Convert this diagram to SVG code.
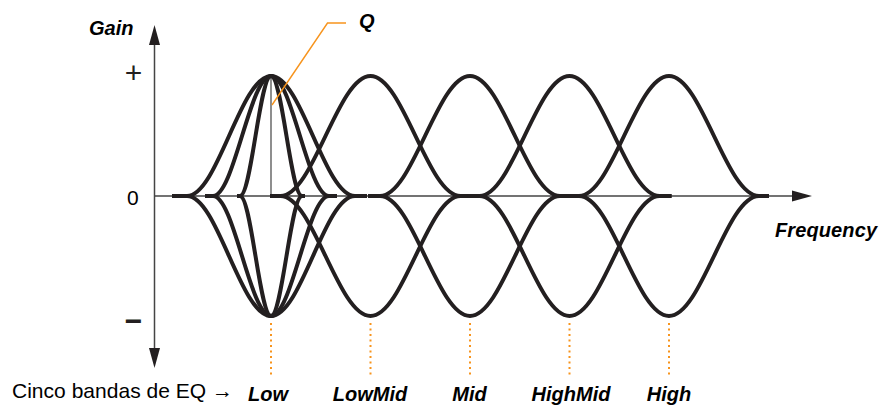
<svg xmlns="http://www.w3.org/2000/svg" width="881" height="405" viewBox="0 0 881 405">
<defs>
<style>
.curve{fill:none;stroke:#231f20;stroke-width:4;stroke-linejoin:round}
.axis{fill:none;stroke:#444;stroke-width:1.5}
.lead{fill:none;stroke:#f7941d;stroke-width:1.4}
.dot{fill:none;stroke:#f7941d;stroke-width:2;stroke-dasharray:2 3.5}
.lbl{font-family:"Liberation Sans",Arial,sans-serif;font-weight:bold;font-style:italic;font-size:20px;fill:#000}
.reg{font-family:"Liberation Sans",Arial,sans-serif;font-size:21px;fill:#000}
.sign{font-family:"Liberation Sans",Arial,sans-serif;font-size:30px;fill:#231f20}
</style>
</defs>
<rect width="881" height="405" fill="#fff"/>
<g id="axes">
<line class="axis" x1="154.5" y1="42" x2="154.5" y2="352"/>
<polygon points="154.5,25 149,45 160,45" fill="#231f20"/>
<polygon points="154.5,368 149,348 160,348" fill="#231f20"/>
<line class="axis" x1="154.5" y1="196" x2="795" y2="196"/>
<polygon points="812,196 792,190.5 792,201.5" fill="#231f20"/>
<line x1="271" y1="76" x2="271" y2="196" stroke="#444" stroke-width="1.2"/>
</g>
<g id="band-low">
<path class="curve" d="M172,196 H187 C217.5,196 240.5,76 271,76 C301.5,76 324.5,196 355,196 H367"/>
<path class="curve" d="M205,196 H213 C234.1,196 249.9,76 271,76 C292.1,76 307.9,196 329,196 H337"/>
<path class="curve" d="M237,196 H240 C251.3,196 259.7,76 271,76 C282.3,76 290.7,196 302,196 H305"/>
<path class="curve" d="M172,196 H187 C217.5,196 240.5,316 271,316 C301.5,316 324.5,196 355,196 H367"/>
<path class="curve" d="M205,196 H213 C234.1,196 249.9,316 271,316 C292.1,316 307.9,196 329,196 H337"/>
<path class="curve" d="M237,196 H240 C251.3,196 259.7,316 271,316 C282.3,316 290.7,196 302,196 H305"/>
</g>
<g id="band-lowmid">
<path class="curve" d="M270,196 H280.5 C313.2,196 337.8,76 370.5,76 C403.2,76 427.8,196 460.5,196 H472"/>
<path class="curve" d="M270,196 H280.5 C313.2,196 337.8,316 370.5,316 C403.2,316 427.8,196 460.5,196 H472"/>
</g>
<g id="band-mid">
<path class="curve" d="M368,196 H380 C412.7,196 437.3,76 470,76 C502.7,76 527.3,196 560,196 H572"/>
<path class="curve" d="M368,196 H380 C412.7,196 437.3,316 470,316 C502.7,316 527.3,196 560,196 H572"/>
</g>
<g id="band-highmid">
<path class="curve" d="M467.5,196 H479.5 C512.2,196 536.8,76 569.5,76 C602.2,76 626.8,196 659.5,196 H671.5"/>
<path class="curve" d="M467.5,196 H479.5 C512.2,196 536.8,316 569.5,316 C602.2,316 626.8,196 659.5,196 H671.5"/>
</g>
<g id="band-high">
<path class="curve" d="M567,196 H579 C611.7,196 636.3,76 669,76 C701.7,76 726.3,196 759,196 H769"/>
<path class="curve" d="M567,196 H579 C611.7,196 636.3,316 669,316 C701.7,316 726.3,196 759,196 H769"/>
</g>
<g id="connectors">
<polyline class="lead" points="272,105 327.5,23 346,23"/>
<line class="dot" x1="271" y1="323" x2="271" y2="376"/>
<line class="dot" x1="370.5" y1="323" x2="370.5" y2="376"/>
<line class="dot" x1="470" y1="323" x2="470" y2="376"/>
<line class="dot" x1="569.5" y1="323" x2="569.5" y2="376"/>
<line class="dot" x1="669" y1="323" x2="669" y2="376"/>
</g>
<g id="labels">
<text class="lbl" x="89" y="35">Gain</text>
<text class="lbl" x="359" y="28">Q</text>
<text class="lbl" x="775" y="237" textLength="102">Frequency</text>
<text class="reg" x="127" y="205">0</text>
<text class="sign" x="133.5" y="83" text-anchor="middle">+</text>
<text class="sign" x="133.5" y="331" text-anchor="middle" font-weight="bold">−</text>
<text class="reg" x="12" y="398" textLength="221">Cinco bandas de EQ →</text>
<text class="lbl" x="268" y="401" text-anchor="middle">Low</text>
<text class="lbl" x="370" y="401" text-anchor="middle">LowMid</text>
<text class="lbl" x="469.5" y="401" text-anchor="middle">Mid</text>
<text class="lbl" x="571" y="401" text-anchor="middle">HighMid</text>
<text class="lbl" x="669" y="401" text-anchor="middle">High</text>
</g>
</svg>
